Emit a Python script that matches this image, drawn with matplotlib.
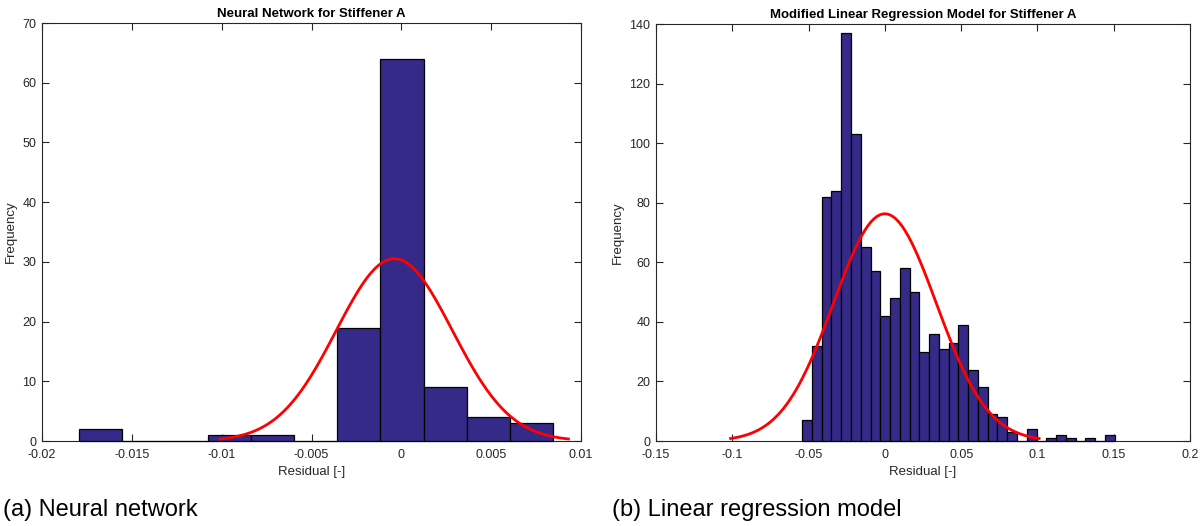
import numpy as np
import matplotlib
matplotlib.use("Agg")
import matplotlib.pyplot as plt

plt.rcParams['font.family'] = ['Liberation Sans', 'DejaVu Sans']

# ---------------- data ----------------
# (a) Neural network residual histogram
nn_first_edge = -0.01796
nn_bin_width = 0.0024
nn_counts = [2, 0, 0, 1, 1, 0, 19, 64, 9, 4, 3]
nn_fit_mu = -0.00039
nn_fit_sigma = 0.00323
nn_xticks = [-0.02, -0.015, -0.01, -0.005, 0, 0.005, 0.01]
nn_xticklabels = ['-0.02', '-0.015', '-0.01', '-0.005', '0', '0.005', '0.01']
nn_yticks = [0, 10, 20, 30, 40, 50, 60, 70]

# (b) Linear regression residual histogram
lr_first_edge = -0.0542
lr_bin_width = 0.0064
lr_counts = [7, 32, 82, 84, 137, 103, 65, 57, 42, 48, 58, 50, 30, 36, 31, 33,
             39, 24, 18, 9, 8, 3, 0, 4, 0, 1, 2, 1, 0, 1, 0, 2]
lr_fit_mu = 0.0
lr_fit_sigma = 0.0337
lr_xticks = [-0.15, -0.1, -0.05, 0, 0.05, 0.1, 0.15, 0.2]
lr_xticklabels = ['-0.15', '-0.1', '-0.05', '0', '0.05', '0.1', '0.15', '0.2']
lr_yticks = [0, 20, 40, 60, 80, 100, 120, 140]

titles = ['Neural Network for Stiffener A', 'Modified Linear Regression Model for Stiffener A']
captions = ['(a) Neural network', '(b) Linear regression model']

# ---------------- style ----------------
BAR = '#352A87'
AX = '#262626'

fig = plt.figure(figsize=(12, 5.26), dpi=100)
ax1 = fig.add_axes([42/1200, 1-441/526, (581-42)/1200, (441-23)/526])
ax2 = fig.add_axes([656/1200, 1-441/526, (1190-656)/1200, (441-24)/526])


def draw(ax, first, bw, counts, mu, sigma, xticks, xlabels, yticks, title):
    counts = np.asarray(counts, dtype=float)
    edges = first + bw * np.arange(len(counts) + 1)
    bars = ax.bar(edges[:-1], counts, width=bw, align='edge', color=BAR,
                  edgecolor='black', linewidth=0.9, zorder=3)
    for b in bars:
        b.set_clip_on(False)
    n = counts.sum()
    x = np.linspace(mu - 3 * sigma, mu + 3 * sigma, 100)
    y = n * bw * np.exp(-0.5 * ((x - mu) / sigma) ** 2) / (sigma * np.sqrt(2 * np.pi))
    ax.plot(x, y, color='red', linewidth=2, zorder=4)
    ax.set_xlim(xticks[0], xticks[-1])
    ax.set_ylim(yticks[0], yticks[-1])
    ax.set_xticks(xticks)
    ax.set_xticklabels(xlabels)
    ax.set_yticks(yticks)
    ax.tick_params(direction='in', top=True, right=True, length=5, width=0.8,
                   color=AX, labelcolor=AX, labelsize=9)
    ax.tick_params(axis='x', pad=6)
    ax.tick_params(axis='y', pad=4)
    for s in ax.spines.values():
        s.set_color(AX)
        s.set_linewidth(0.8)
    ax.set_xlabel('Residual [-]', fontsize=9.5, color=AX, labelpad=3)
    ax.set_ylabel('Frequency', fontsize=9.5, color=AX, labelpad=4)
    ax.set_title(title, fontsize=9.5, fontweight='bold', color='black', pad=4)


draw(ax1, nn_first_edge, nn_bin_width, nn_counts, nn_fit_mu, nn_fit_sigma,
     nn_xticks, nn_xticklabels, nn_yticks, titles[0])
draw(ax2, lr_first_edge, lr_bin_width, lr_counts, lr_fit_mu, lr_fit_sigma,
     lr_xticks, lr_xticklabels, lr_yticks, titles[1])

fig.text(3/1200, 1-510/526, captions[0], fontsize=17, ha='left', va='center', color='black')
fig.text(612/1200, 1-510/526, captions[1], fontsize=17, ha='left', va='center', color='black')

fig.savefig('out.png', dpi=100)
